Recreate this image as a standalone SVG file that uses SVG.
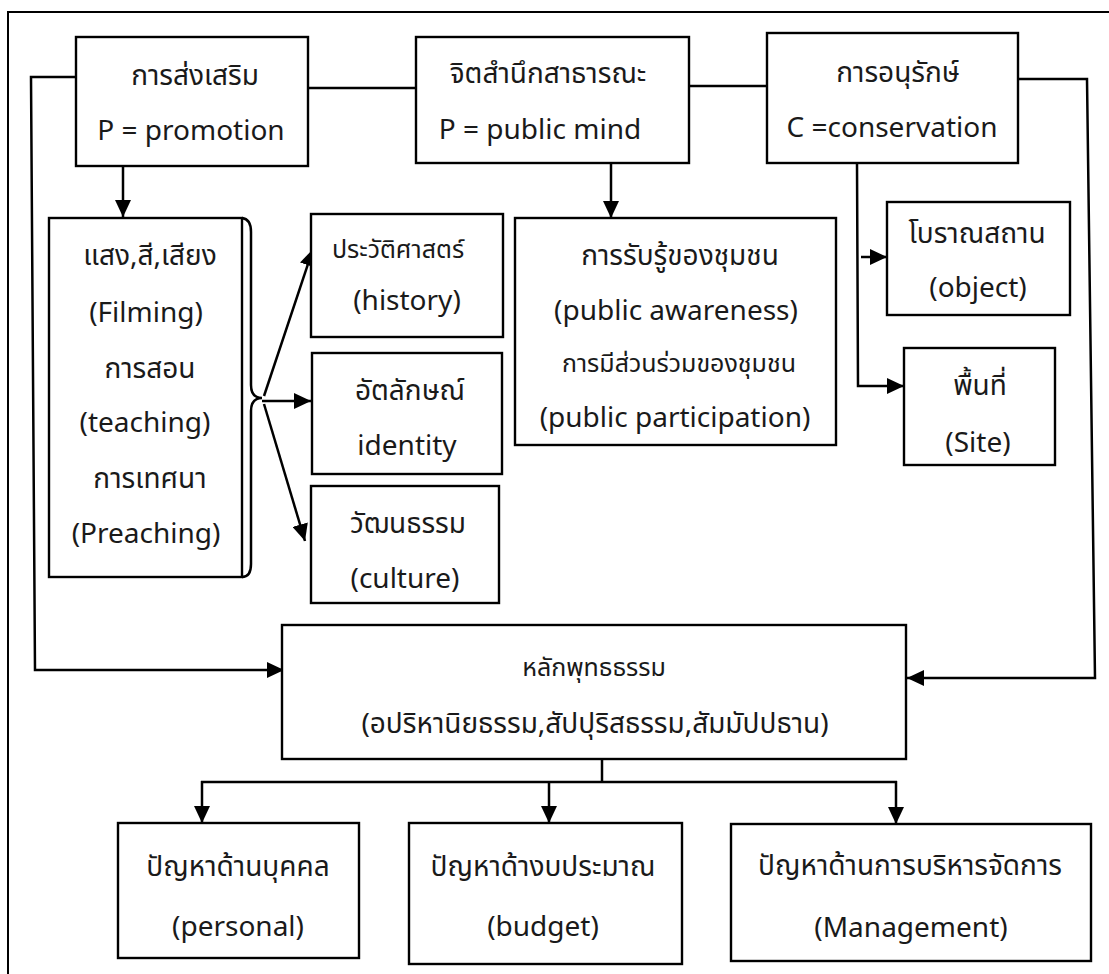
<svg xmlns="http://www.w3.org/2000/svg" width="1109" height="974" viewBox="0 0 1109 974">
<style>
.box{fill:#fff;stroke:#000;stroke-width:2.4}
.t{font-family:"Noto Sans","Noto Sans Thai","Liberation Sans",sans-serif;font-size:28px;fill:#1a1a1a;text-anchor:middle}
.s{font-size:25px}
.c{fill:none;stroke:#000;stroke-width:2.5}
</style>
<defs>
<marker id="ah" markerUnits="userSpaceOnUse" markerWidth="18" markerHeight="16" refX="17" refY="8" orient="auto">
<path d="M0,0 L17,8 L0,16 z" fill="#000"/>
</marker>
</defs>
<rect x="0" y="0" width="1109" height="974" fill="#fff"/>
<rect x="8" y="12" width="1112" height="975" fill="none" stroke="#000" stroke-width="2"/>
<g id="connectors">
<line class="c" x1="308" y1="88" x2="416" y2="88"/>
<line class="c" x1="689" y1="86" x2="767" y2="86"/>
<polyline class="c" points="76,77 31,77 35,670 284,670" marker-end="url(#ah)"/>
<polyline class="c" points="1018,79 1087,79 1095,678 907,678" marker-end="url(#ah)"/>
<line class="c" x1="123" y1="166" x2="123" y2="217" marker-end="url(#ah)"/>
<line class="c" x1="611" y1="163" x2="611" y2="218" marker-end="url(#ah)"/>
<path class="c" d="M242,218 Q251,219 251,232 L251,385 Q251,398 262,398 Q251,398 251,411 L251,564 Q251,577 242,577"/>
<line class="c" x1="264" y1="396" x2="313" y2="249" marker-end="url(#ah)"/>
<line class="c" x1="262" y1="401" x2="311" y2="401" marker-end="url(#ah)"/>
<line class="c" x1="264" y1="404" x2="305" y2="541" marker-end="url(#ah)"/>
<polyline class="c" points="857,163 858,386 904,386" marker-end="url(#ah)"/>
<line class="c" x1="861" y1="257" x2="887" y2="257" marker-end="url(#ah)"/>
<line class="c" x1="602" y1="759" x2="602" y2="782"/>
<line class="c" x1="201" y1="782" x2="897" y2="782"/>
<line class="c" x1="202" y1="781" x2="202" y2="823" marker-end="url(#ah)"/>
<line class="c" x1="549" y1="781" x2="549" y2="823" marker-end="url(#ah)"/>
<line class="c" x1="896" y1="781" x2="896" y2="824" marker-end="url(#ah)"/>
</g>
<g id="promotion">
<rect class="box" x="76" y="37" width="232" height="129"/>
<text class="t" x="195" y="85">การส่งเสริม</text>
<text class="t" x="191" y="140">P = promotion</text>
</g>
<g id="publicmind">
<rect class="box" x="416" y="37" width="273" height="126"/>
<text class="t" x="548" y="83">จิตสำนึกสาธารณะ</text>
<text class="t" x="540" y="139">P = public mind</text>
</g>
<g id="conservation">
<rect class="box" x="767" y="33" width="251" height="130"/>
<text class="t" x="898" y="82">การอนุรักษ์</text>
<text class="t" x="892" y="137">C =conservation</text>
</g>
<g id="media">
<rect class="box" x="49" y="218" width="193" height="359"/>
<text class="t" x="150" y="265">แสง,สี,เสียง</text>
<text class="t" x="146" y="322">(Filming)</text>
<text class="t" x="150" y="378">การสอน</text>
<text class="t" x="145" y="432">(teaching)</text>
<text class="t" x="150" y="488">การเทศนา</text>
<text class="t" x="146" y="543">(Preaching)</text>
</g>
<g id="history">
<rect class="box" x="311" y="214" width="192" height="123"/>
<text class="t s" x="398" y="258">ประวัติศาสตร์</text>
<text class="t" x="407" y="310">(history)</text>
</g>
<g id="identity">
<rect class="box" x="312" y="353" width="190" height="121"/>
<text class="t" x="410" y="400">อัตลักษณ์</text>
<text class="t" x="407" y="455">identity</text>
</g>
<g id="culture">
<rect class="box" x="311" y="486" width="188" height="117"/>
<text class="t" x="408" y="533">วัฒนธรรม</text>
<text class="t" x="405" y="588">(culture)</text>
</g>
<g id="awareness">
<rect class="box" x="515" y="218" width="321" height="227"/>
<text class="t" x="680" y="265">การรับรู้ของชุมชน</text>
<text class="t" x="676" y="320">(public awareness)</text>
<text class="t s" x="679" y="372">การมีส่วนร่วมของชุมชน</text>
<text class="t" x="675" y="427">(public participation)</text>
</g>
<g id="object">
<rect class="box" x="887" y="202" width="183" height="113"/>
<text class="t" x="977" y="243">โบราณสถาน</text>
<text class="t" x="978" y="297">(object)</text>
</g>
<g id="site">
<rect class="box" x="904" y="348" width="151" height="117"/>
<text class="t" x="980" y="395">พื้นที่</text>
<text class="t" x="978" y="452">(Site)</text>
</g>
<g id="buddhadhamma">
<rect class="box" x="282" y="625" width="624" height="134"/>
<text class="t s" x="594" y="676">หลักพุทธธรรม</text>
<text class="t" x="595" y="733">(อปริหานิยธรรม,สัปปุริสธรรม,สัมมัปปธาน)</text>
</g>
<g id="personal">
<rect class="box" x="118" y="823" width="241" height="135"/>
<text class="t" x="238" y="876">ปัญหาด้านบุคคล</text>
<text class="t" x="238" y="936">(personal)</text>
</g>
<g id="budget">
<rect class="box" x="409" y="823" width="273" height="141"/>
<text class="t" x="543" y="876">ปัญหาด้างบประมาณ</text>
<text class="t" x="543" y="936">(budget)</text>
</g>
<g id="management">
<rect class="box" x="731" y="824" width="360" height="137"/>
<text class="t" x="910" y="875">ปัญหาด้านการบริหารจัดการ</text>
<text class="t" x="911" y="937">(Management)</text>
</g>
</svg>
